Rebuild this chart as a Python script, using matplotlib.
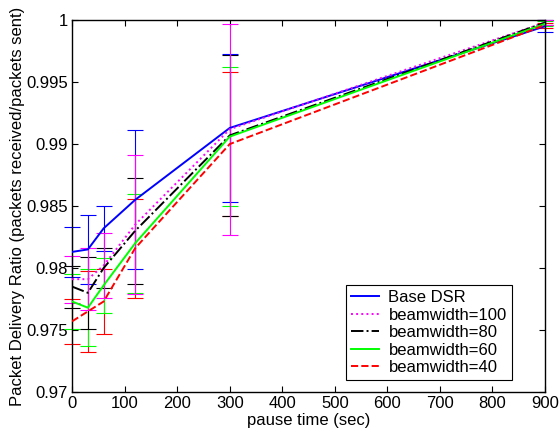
import matplotlib
matplotlib.use('Agg')
import matplotlib.pyplot as plt
from matplotlib.ticker import FixedLocator

plt.rcParams['font.family'] = ['Liberation Sans', 'DejaVu Sans']

pause = [0, 30, 60, 120, 300, 900]

labels = ['Base DSR', 'beamwidth=100', 'beamwidth=80', 'beamwidth=60', 'beamwidth=40']

dsr = [0.9813, 0.9815, 0.9832, 0.9855, 0.9913, 0.9995]
bw100 = [0.9791, 0.9791, 0.9802, 0.9835, 0.9912, 0.9998]
bw80 = [0.9785, 0.9780, 0.9800, 0.9830, 0.9907, 0.9998]
bw60 = [0.9773, 0.9768, 0.9786, 0.9820, 0.9906, 0.9997]
bw40 = [0.9757, 0.9765, 0.9773, 0.9816, 0.9900, 0.9996]

err_dsr = [0.0020, 0.0028, 0.0018, 0.0056, 0.0060, 0.0005]
err_bw100 = [0.0019, 0.0025, 0.0026, 0.0056, 0.0085, 0.0002]
err_bw80 = [0.0017, 0.0029, 0.0016, 0.0043, 0.0065, 0.0002]
err_bw60 = [0.0022, 0.0031, 0.0022, 0.0040, 0.0056, 0.0002]
err_bw40 = [0.0018, 0.0033, 0.0026, 0.0040, 0.0058, 0.0002]

series = [dsr, bw100, bw80, bw60, bw40]
errors = [err_dsr, err_bw100, err_bw80, err_bw60, err_bw40]
colors = ['#0000ff', '#ff00ff', '#000000', '#00ff00', '#ff0000']
styles = ['-', ':', '-.', '-', '--']

fig = plt.figure(figsize=(5.59, 4.37), dpi=100)
ax = fig.add_axes([0.129, 0.103, 0.846, 0.851])

# error bars first, magenta ends up on top
for i in [4, 3, 2, 0, 1]:
    ax.errorbar(pause, series[i], yerr=errors[i], fmt='none', ecolor=colors[i],
                elinewidth=0.8, capsize=5.5, capthick=0.8, clip_on=False, zorder=2)

for y, c, ls, lab in zip(series, colors, styles, labels):
    ax.plot(pause, y, color=c, linestyle=ls, linewidth=1.4, label=lab, zorder=3)

ax.set_xlim(0, 900)
ax.set_ylim(0.97, 1.0)
ax.xaxis.set_major_locator(FixedLocator(range(0, 901, 100)))
ax.set_yticks([0.97, 0.975, 0.98, 0.985, 0.99, 0.995, 1.0])
ax.set_yticklabels(['0.97', '0.975', '0.98', '0.985', '0.99', '0.995', '1'])
ax.tick_params(direction='in', top=True, right=True, labelsize=12, length=4, pad=3)
for s in ax.spines.values():
    s.set_linewidth(1.0)

ax.set_xlabel('pause time (sec)', fontsize=12, labelpad=1)
ax.set_ylabel('Packet Delivery Ratio (packets received/packets sent)', fontsize=12, labelpad=1)

leg = ax.legend(loc='lower left', bbox_to_anchor=(0.579, 0.032), fontsize=12,
                fancybox=False, framealpha=1, edgecolor='black',
                handlelength=1.7, handletextpad=0.55, borderpad=0.3,
                labelspacing=0.15, borderaxespad=0)
leg.get_frame().set_linewidth(0.8)

fig.savefig('out.png', dpi=100)
